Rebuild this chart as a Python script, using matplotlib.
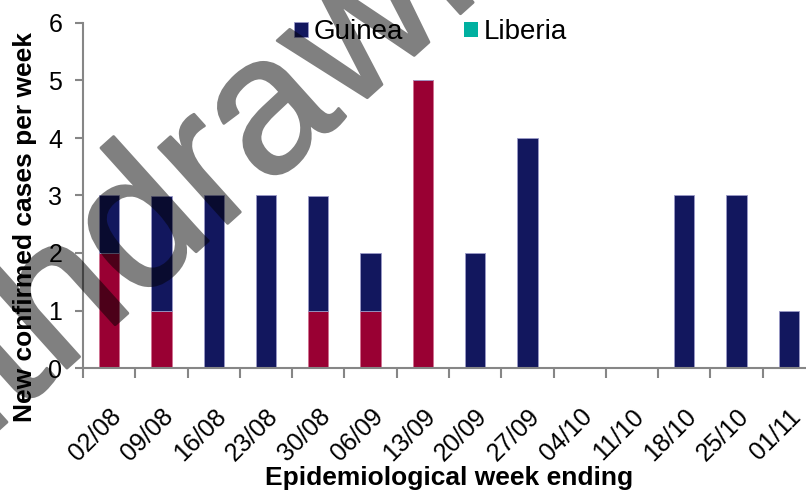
import matplotlib
matplotlib.use("Agg")
import matplotlib.pyplot as plt
import matplotlib.patheffects as pe
import numpy as np

plt.rcParams['font.family'] = ['Liberation Sans', 'DejaVu Sans']

weeks = ["02/08", "09/08", "16/08", "23/08", "30/08", "06/09", "13/09",
         "20/09", "27/09", "04/10", "11/10", "18/10", "25/10", "01/11"]
red_series = [2, 1, 0, 0, 1, 1, 5, 0, 0, 0, 0, 0, 0, 0]
guinea = [1, 2, 3, 3, 2, 1, 0, 2, 4, 0, 0, 3, 3, 1]
liberia = [0, 0, 0, 0, 0, 0, 0, 0, 0, 0, 0, 0, 0, 0]
yticks = [0, 1, 2, 3, 4, 5, 6]

W, H = 806, 490
fig = plt.figure(figsize=(W / 100, H / 100), dpi=100)
ax = fig.add_axes([83 / W, (H - 368) / H, (815 - 83) / W, (368 - 23) / H])

x = np.arange(len(weeks))
bw = 0.39
red_c = '#990033'
navy = '#12175E'
teal = '#00B0A0'
ax.bar(x, red_series, bw, color=red_c, edgecolor='#d07090', linewidth=0.6, label='_nolegend_', zorder=2)
ax.bar(x, guinea, bw, bottom=red_series, color=navy, edgecolor='#9a9ac8', linewidth=0.6, label='Guinea', zorder=2)
bot2 = np.array(red_series) + np.array(guinea)
ax.bar(x, liberia, bw, bottom=bot2, color=teal, edgecolor='none', label='Liberia', zorder=2)

ax.set_xlim(-0.5, len(weeks) - 0.5)
ax.set_ylim(0, 6)
ax.set_yticks(yticks)
ax.set_yticklabels([str(v) for v in yticks], fontsize=18)

ax.set_xticks(x)
ax.set_xticklabels(weeks, fontsize=18, rotation=45, ha='right', va='top', rotation_mode='anchor')
ax.set_xticks(np.arange(-0.5, len(weeks), 1.0), minor=True)
ax.tick_params(axis='x', which='major', length=0, pad=26)
ax.tick_params(axis='x', which='minor', length=7, width=1.5, color='#868686', direction='out')
ax.tick_params(axis='y', length=6, width=1.5, color='#868686', direction='out', pad=9)

for s in ['top', 'right']:
    ax.spines[s].set_visible(False)
for s in ['left', 'bottom']:
    ax.spines[s].set_color('#868686')
    ax.spines[s].set_linewidth(1.5)

ax.set_ylabel('New confirmed cases per week', fontsize=19, fontweight='bold')
ax.yaxis.set_label_coords(-0.063, 0.41)
ax.set_xlabel('Epidemiological week ending', fontsize=19, fontweight='bold')
ax.xaxis.label.set_va('baseline')
ax.xaxis.set_label_coords(0.5, -0.339)

leg = ax.legend(loc='upper left', bbox_to_anchor=(0.254, 1.083), ncol=2, frameon=False,
                fontsize=20, handlelength=0.5, handleheight=0.5, handletextpad=0.2,
                columnspacing=2.2)


def half_alpha(img, dpi):
    out = img.copy()
    out[..., :3] = 0.0
    out[..., 3] = out[..., 3] * 0.5
    return out, 0, 0


wm = fig.text(156 / W, 1 - 220 / H, 'Withdrawn', fontsize=140, rotation=42,
              color='black', ha='center', va='center', rotation_mode='anchor',
              path_effects=[pe.withStroke(linewidth=2, foreground='black')])
wm.set_agg_filter(half_alpha)

fig.savefig('out.png', dpi=100)
